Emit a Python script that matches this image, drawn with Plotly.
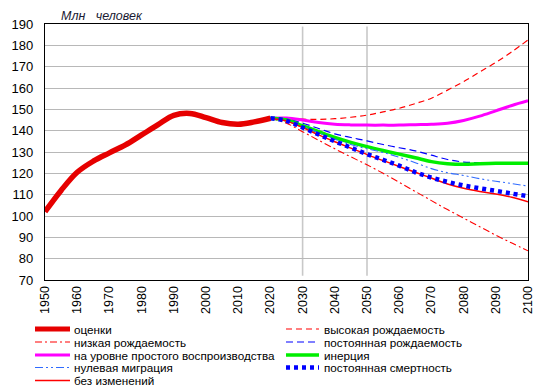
import plotly.graph_objects as go

# ---------------- data ----------------
years_est = [1950, 1955, 1960, 1965, 1970, 1975, 1980, 1985, 1990, 1995, 2000, 2005, 2010, 2015, 2020]
estimates = [102.0, 112.0, 120.5, 125.7, 129.6, 133.3, 138.0, 142.7, 147.2, 148.1, 146.1, 143.8, 143.0, 144.1, 145.8]

years_proj = [2020, 2025, 2030, 2035, 2040, 2045, 2050, 2055, 2060, 2065, 2070, 2075, 2080, 2085, 2090, 2095, 2100]
high_fert = [145.8, 145.9, 145.4, 145.3, 145.6, 146.3, 147.3, 148.8, 150.5, 152.7, 155.2, 159.0, 163.0, 167.5, 172.0, 177.0, 182.5]
low_fert = [145.8, 143.5, 139.5, 135.5, 131.5, 127.7, 124.0, 120.0, 115.8, 111.5, 107.2, 103.0, 99.0, 95.0, 91.0, 87.3, 83.7]
const_fert = [145.8, 145.3, 143.5, 141.0, 138.5, 136.8, 135.2, 133.5, 132.0, 130.5, 128.5, 126.5, 125.3, 125.0, 125.0, 125.0, 125.0]
replacement = [145.8, 145.9, 145.0, 143.8, 143.0, 142.7, 142.6, 142.6, 142.6, 142.8, 143.0, 143.5, 144.8, 146.8, 149.3, 151.8, 154.0]
momentum = [145.8, 145.0, 142.3, 139.5, 136.8, 134.5, 132.5, 130.7, 129.0, 127.3, 125.5, 124.5, 124.2, 124.5, 124.7, 124.7, 124.7]
zero_migr = [145.8, 144.5, 142.0, 139.0, 136.0, 133.5, 131.5, 129.8, 127.5, 125.0, 122.2, 120.3, 119.0, 117.5, 116.3, 115.2, 114.0]
const_mort = [145.8, 144.6, 141.5, 138.2, 135.0, 132.0, 129.0, 126.3, 123.6, 120.5, 118.0, 116.0, 114.3, 113.0, 111.8, 110.5, 109.3]
no_change = [145.8, 144.5, 141.5, 138.0, 134.8, 131.8, 128.8, 126.0, 123.2, 120.5, 117.8, 115.0, 113.0, 111.5, 110.3, 108.8, 106.7]

names = ["оценки", "высокая рождаемость", "низкая рождаемость", "постоянная рождаемость",
         "на уровне простого воспроизводства", "инерция", "нулевая миграция",
         "постоянная смертность", "без изменений"]

x_ticks = list(range(1950, 2101, 10))
y_ticks = list(range(70, 191, 10))
marker_years = [2030, 2050]

# ---------------- styles ----------------
styles = {
    "оценки": dict(color="#e60000", width=5.5, dash="solid"),
    "высокая рождаемость": dict(color="#ff0000", width=1.2, dash="6px,4px"),
    "низкая рождаемость": dict(color="#ff0000", width=1.1, dash="7px,3px,2px,3px"),
    "постоянная рождаемость": dict(color="#0000ff", width=1.2, dash="7px,4px"),
    "на уровне простого воспроизводства": dict(color="#ff00ff", width=3, dash="solid"),
    "инерция": dict(color="#00ee00", width=3.5, dash="solid"),
    "нулевая миграция": dict(color="#2f6bff", width=1.1, dash="8px,3px,2px,3px,2px,3px"),
    "постоянная смертность": dict(color="#0000ff", width=4.5, dash="4px,4px"),
    "без изменений": dict(color="#ff0000", width=1.4, dash="solid"),
}

series = [
    (years_est, estimates, "оценки"),
    (years_proj, high_fert, "высокая рождаемость"),
    (years_proj, low_fert, "низкая рождаемость"),
    (years_proj, const_fert, "постоянная рождаемость"),
    (years_proj, replacement, "на уровне простого воспроизводства"),
    (years_proj, zero_migr, "нулевая миграция"),
    (years_proj, no_change, "без изменений"),
    (years_proj, const_mort, "постоянная смертность"),
    (years_proj, momentum, "инерция"),
]

fig = go.Figure()
order = ["высокая рождаемость", "низкая рождаемость", "на уровне простого воспроизводства",
         "постоянная рождаемость", "инерция", "нулевая миграция", "без изменений",
         "постоянная смертность", "оценки"]
lookup = {n: (x, y) for x, y, n in series}
for n in order:
    x, y = lookup[n]
    st = styles[n]
    fig.add_trace(go.Scatter(x=x, y=y, mode="lines", name=n, showlegend=False,
                             line=dict(color=st["color"], width=st["width"], dash=st["dash"],
                                       shape="spline", smoothing=1.0)))

# the page body has an 8px margin, so the figure is offset by 8px (left and top)
OFF = 8
W, H = 543 - OFF, 390 - OFF
L, R, T, B = 45 - OFF, 15, 24 - OFF, 110
pw, ph = W - L - R, H - T - B

def px_x(px):
    return (px - OFF - L) / pw

def px_y(py):
    return (H - B - (py - OFF)) / ph

shapes = []
for yr in marker_years:
    shapes.append(dict(type="line", xref="x", yref="y", x0=yr, x1=yr, y0=72, y1=188.8,
                       line=dict(color="#c8c8c8", width=1.6), layer="below"))

annotations = [dict(text="<i>Млн   человек</i>", xref="paper", yref="paper",
                    x=px_x(59), y=px_y(16), xanchor="left", yanchor="middle", showarrow=False,
                    font=dict(family="Liberation Sans, Arial", size=12.5, color="#1a1a33"))]

# legend (manual, two columns)
col1 = ["оценки", "низкая рождаемость", "на уровне простого воспроизводства", "нулевая миграция", "без изменений"]
col2 = ["высокая рождаемость", "постоянная рождаемость", "инерция", "постоянная смертность"]
row_y = [329, 342, 355, 367.5, 380.5]
for col, (lx0, lx1, tx) in ((col1, (35, 70, 72)), (col2, (286, 319, 322))):
    for i, n in enumerate(col):
        st = styles[n]
        w = st["width"]
        if n == "оценки":
            w = 5
        shapes.append(dict(type="line", xref="paper", yref="paper",
                           x0=px_x(lx0), x1=px_x(lx1), y0=px_y(row_y[i]), y1=px_y(row_y[i]),
                           line=dict(color=st["color"], width=w, dash=st["dash"])))
        annotations.append(dict(text=n, xref="paper", yref="paper", x=px_x(tx), y=px_y(row_y[i]),
                                xanchor="left", yanchor="middle", showarrow=False,
                                font=dict(family="Liberation Sans, Arial", size=11.7, color="black")))

fig.update_layout(
    width=W, height=H,
    margin=dict(l=L, r=R, t=T, b=B, pad=0, autoexpand=False),
    paper_bgcolor="white", plot_bgcolor="white",
    showlegend=False,
    font=dict(family="Liberation Sans, Arial", size=13, color="black"),
    shapes=shapes, annotations=annotations,
    xaxis=dict(range=[1950, 2100], tickmode="array", tickvals=x_ticks, automargin=False,
               ticktext=[str(v) for v in x_ticks], tickangle=-90, showgrid=False,
               zeroline=False, showline=True, linecolor="black", linewidth=1.2, mirror=True,
               ticks="", tickfont=dict(size=12.5)),
    yaxis=dict(range=[70, 190], tickmode="array", tickvals=y_ticks, showgrid=True, automargin=False,
               gridcolor="#b8b8b8", gridwidth=1, zeroline=False, showline=True,
               linecolor="black", linewidth=1.2, mirror=True, ticks="",
               ticklabelstandoff=8, tickfont=dict(size=13)),
)

fig.write_html("out.html")
